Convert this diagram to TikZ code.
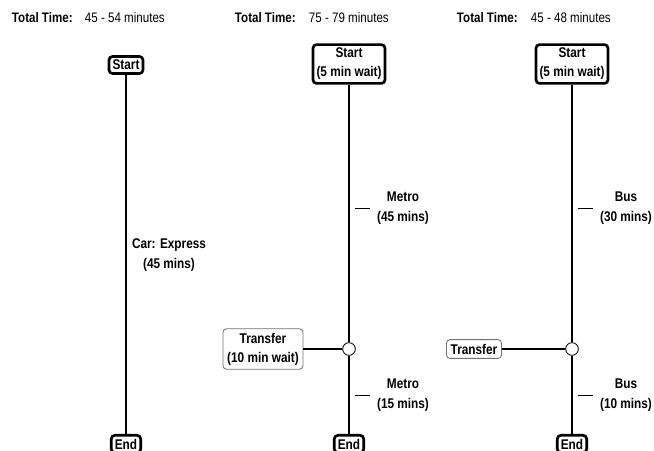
\documentclass[tikz,border=0pt]{standalone}
\usepackage{fontspec}
\setmainfont{Liberation Sans}[FakeStretch=0.84]
\usetikzlibrary{positioning}

\begin{document}
\begin{tikzpicture}[x=0.025cm, y=-0.025cm,
  % ---- styles ------------------------------------------------------------
  stop/.style={draw=black, line width=1.9pt, rounded corners=2.5pt, fill=white,
    align=center, inner sep=2.5pt, font=\fontsize{10}{13.5}\selectfont\bfseries},
  xfer/.style={draw=black!55, line width=0.6pt, rounded corners=2.5pt, fill=white,
    align=center, inner sep=3pt, font=\fontsize{10}{13.5}\selectfont\bfseries},
  leg/.style={align=center, font=\fontsize{10}{14.2}\selectfont\bfseries},
  head/.style={anchor=west, font=\fontsize{9.8}{12}\selectfont\bfseries},
  headval/.style={anchor=west, font=\fontsize{9.8}{12}\selectfont},
  route/.style={draw=black, line width=2.1pt},
  hop/.style={circle, draw=black, line width=0.6pt, fill=white,
    minimum size=9pt, inner sep=0pt},
  link/.style={draw=black, line width=0.9pt},
  tick/.style={draw=black, line width=0.7pt},
]
\clip (0,0) rectangle (654,450);
\fill[white] (0,0) rectangle (654,450);

% =====================================================================
%  HEADERS
% =====================================================================
\node[head]    (ttlA) at (7,18)   {Total Time:};
\node[headval] (valA) at (80,18)  {45 - 54 minutes};
\node[head]    (ttlB) at (230,18) {Total Time:};
\node[headval] (valB) at (304,18) {75 - 79 minutes};
\node[head]    (ttlC) at (452,18) {Total Time:};
\node[headval] (valC) at (526,18) {45 - 48 minutes};

% =====================================================================
%  ROUTE A : car
% =====================================================================
\node[stop] (startA) at (126,65)  {Start};
\node[stop] (endA)   at (126,444) {End};
\draw[route] (startA) -- (endA);
\node[leg]  (carA)   at (169,255) {Car: Express\\(45 mins)};

% =====================================================================
%  ROUTE B : metro, transfer, metro
% =====================================================================
\node[stop] (startB) at (349,64)  {Start\\(5 min wait)};
\node[stop] (endB)   at (349,444) {End};
\node[hop]  (hopB)   at (349,349) {};
\draw[route] (startB) -- (hopB) -- (endB);
\node[xfer] (xferB)  at (263,349) {Transfer\\(10 min wait)};
\draw[link] (xferB) -- (hopB);
\node[leg]  (metroB1) at (403,208) {Metro\\(45 mins)};
\node[leg]  (metroB2) at (403,395) {Metro\\(15 mins)};
\draw[tick] ([xshift=-1.5pt]metroB1.west) -- ++(-15,0);
\draw[tick] ([xshift=-1.5pt]metroB2.west) -- ++(-15,0);

% =====================================================================
%  ROUTE C : bus, transfer, bus
% =====================================================================
\node[stop] (startC) at (572,64)  {Start\\(5 min wait)};
\node[stop] (endC)   at (572,444) {End};
\node[hop]  (hopC)   at (572,349) {};
\draw[route] (startC) -- (hopC) -- (endC);
\node[xfer] (xferC)  at (474,349) {Transfer};
\draw[link] (xferC) -- (hopC);
\node[leg]  (busC1)  at (626,208) {Bus\\(30 mins)};
\node[leg]  (busC2)  at (626,395) {Bus\\(10 mins)};
\draw[tick] ([xshift=-1.5pt]busC1.west) -- ++(-15,0);
\draw[tick] ([xshift=-1.5pt]busC2.west) -- ++(-15,0);

\end{tikzpicture}
\end{document}
